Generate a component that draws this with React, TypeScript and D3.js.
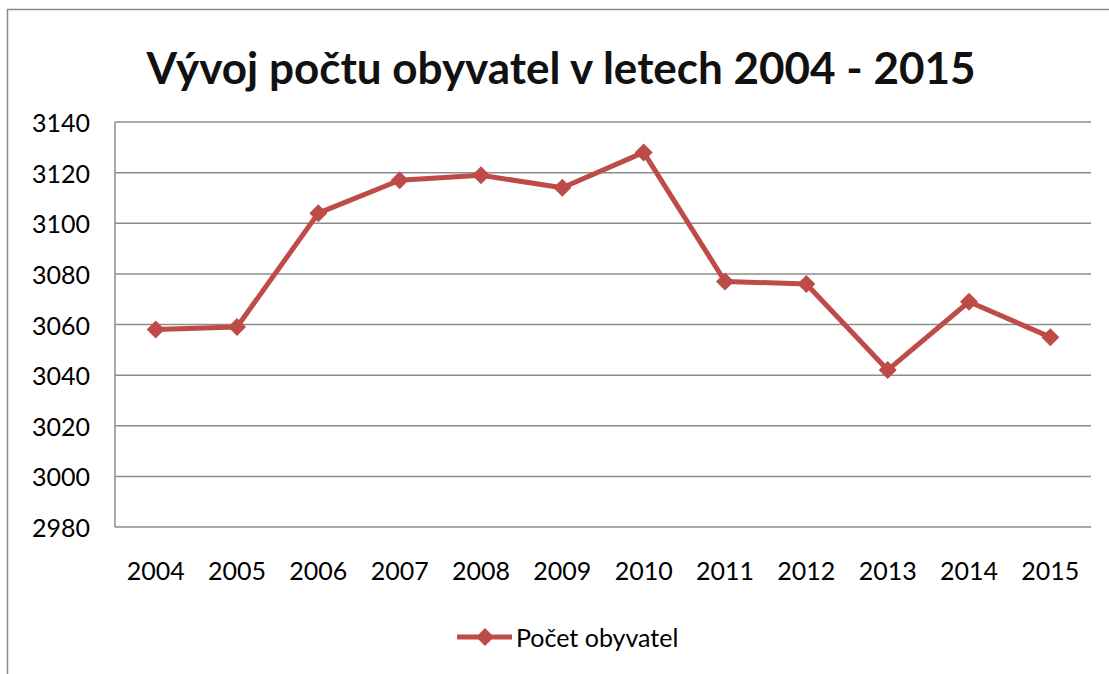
import React from "react";
import { scaleBand, scaleLinear, line } from "d3";

const years = ["2004", "2005", "2006", "2007", "2008", "2009", "2010", "2011", "2012", "2013", "2014", "2015"];
const obyvatel = [3058, 3059, 3104, 3117, 3119, 3114, 3128, 3077, 3076, 3042, 3069, 3055];
const yTicks = [2980, 3000, 3020, 3040, 3060, 3080, 3100, 3120, 3140];

const title = "Vývoj počtu obyvatel v letech 2004 - 2015";
const seriesName = "Počet obyvatel";

const width = 1109;
const height = 674;
const plot = { left: 115, right: 1091, top: 122, bottom: 527 };
const red = "#BE4B48";
const font = "Lato, 'Open Sans', sans-serif";

const diamond = (x: number, y: number, r: number) =>
  `M${x},${y - r}L${x + r},${y}L${x},${y + r}L${x - r},${y}Z`;

export default function App() {
  const xScale = scaleBand<string>().domain(years).range([plot.left, plot.right]);
  const yScale = scaleLinear().domain([2980, 3140]).range([plot.bottom, plot.top]);
  const cx = (d: string) => (xScale(d) as number) + xScale.bandwidth() / 2;

  const path = line<number>()
    .x((_, i) => cx(years[i]))
    .y((d) => yScale(d))(obyvatel);

  return (
    <svg
      width={width}
      height={height}
      style={{ position: "fixed", left: 0, top: 0, background: "#fff" }}
      fontFamily={font}
    >
      <rect x={0} y={0} width={width} height={height} fill="#fff" />
      {/* outer chart border, cropped at right and bottom */}
      <path d={`M7.5,${height}V9.5H${width}`} fill="none" stroke="#8a8a8a" strokeWidth={1.5} />

      <text x={561} y={84} textAnchor="middle" fontSize={44} fontWeight="bold" fill="#111">
        {title}
      </text>

      {/* gridlines */}
      {yTicks.map((t) => (
        <g key={t}>
          <line
            x1={plot.left}
            x2={plot.right}
            y1={yScale(t)}
            y2={yScale(t)}
            stroke="#8c8c8c"
            strokeWidth={1.5}
          />
          <text x={90} y={yScale(t)} textAnchor="end" dominantBaseline="central" fontSize={25} fill="#000">
            {t}
          </text>
        </g>
      ))}
      <line x1={plot.left} x2={plot.left} y1={plot.top} y2={plot.bottom} stroke="#8c8c8c" strokeWidth={1.5} />

      {years.map((y) => (
        <text key={y} x={cx(y)} y={570} textAnchor="middle" dominantBaseline="central" fontSize={25} fill="#000">
          {y}
        </text>
      ))}

      <path d={path ?? ""} fill="none" stroke={red} strokeWidth={5} strokeLinejoin="round" />
      {obyvatel.map((v, i) => (
        <path key={years[i]} d={diamond(cx(years[i]), yScale(v), 9)} fill={red} />
      ))}

      {/* legend */}
      <line x1={457} x2={512} y1={637} y2={637} stroke={red} strokeWidth={5} />
      <path d={diamond(485, 637, 9)} fill={red} />
      <text x={516} y={637} dominantBaseline="central" fontSize={25} fill="#000">
        {seriesName}
      </text>
    </svg>
  );
}
